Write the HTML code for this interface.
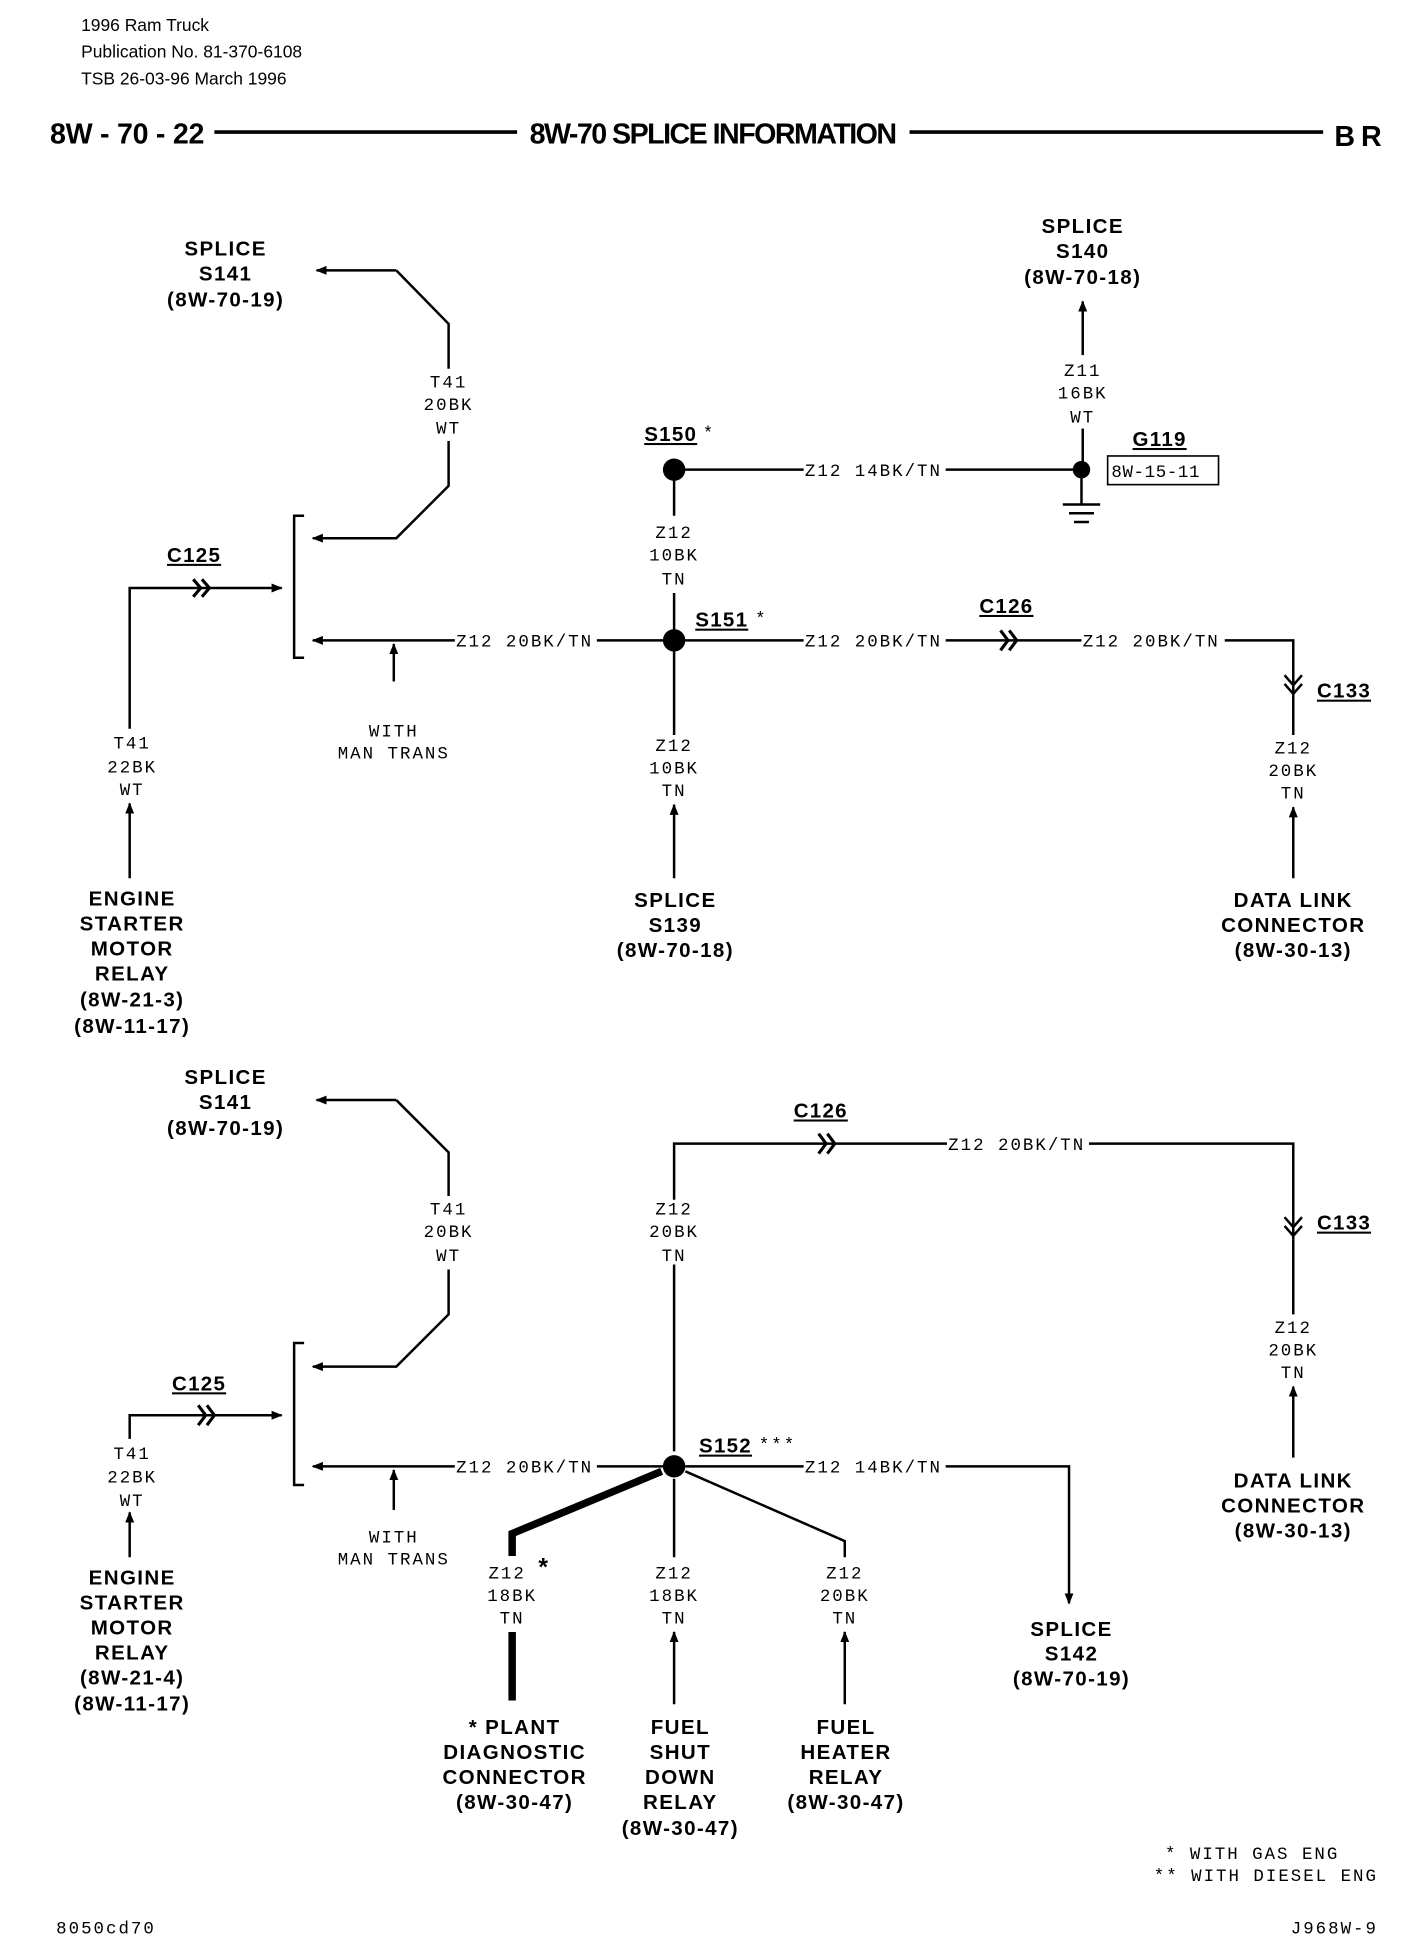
<!DOCTYPE html>
<html><head><meta charset="utf-8"><style>
html,body{margin:0;padding:0;background:#fff}
svg{display:block}
.h{font-family:"Liberation Sans",sans-serif;font-size:14px}
.t{font-family:"Liberation Sans",sans-serif;font-weight:bold;font-size:23px}
.b{font-family:"Liberation Sans",sans-serif;font-weight:900;font-size:16.5px;letter-spacing:1.1px;text-anchor:middle}
.bl{font-family:"Liberation Sans",sans-serif;font-weight:900;font-size:16.5px;letter-spacing:1px;text-decoration:underline}
.m{font-family:"Liberation Mono",monospace;font-size:14px;letter-spacing:1.6px;text-anchor:middle}
.ml{font-family:"Liberation Mono",monospace;font-size:14px;letter-spacing:1.6px}
line,polyline,path{stroke:#000;stroke-width:2;fill:none}
.th{stroke-width:6}
.cv{stroke-width:2.5}
</style></head><body>
<svg width="1408" height="1936" viewBox="0 0 1130 1554" xmlns="http://www.w3.org/2000/svg">
<defs>
<marker id="a" viewBox="0 0 10 10" refX="9" refY="5" markerWidth="9" markerHeight="9" orient="auto-start-reverse" markerUnits="userSpaceOnUse"><path d="M0,1 L10,5 L0,9 Z" style="fill:#000;stroke:none"/></marker>
</defs>
<text class="h" x="65" y="25">1996 Ram Truck</text>
<text class="h" x="65" y="46">Publication  No. 81-370-6108</text>
<text class="h" x="65" y="68">TSB 26-03-96   March  1996</text>
<text class="t" x="40" y="115" textLength="124">8W - 70 - 22</text>
<line x1="172" y1="106" x2="415" y2="106" style="stroke-width:3"/>
<text class="t" x="425" y="115" textLength="295">8W-70 SPLICE INFORMATION</text>
<line x1="730" y1="106" x2="1062" y2="106" style="stroke-width:3"/>
<text class="t" x="1071" y="117" textLength="38">BR</text>

<!-- TOP DIAGRAM -->
<text class="b" x="181" y="205">SPLICE</text><text class="b" x="181" y="225">S141</text><text class="b" x="181" y="246">(8W-70-19)</text>
<polyline points="318,217 254,217" marker-end="url(#a)"/>
<polyline points="318,217 360,260 360,296"/>
<text class="m" x="360" y="311">T41</text><text class="m" x="360" y="329">20BK</text><text class="m" x="360" y="348">WT</text>
<polyline points="360,354 360,390 318,432 251,432" marker-end="url(#a)"/>
<polyline points="244,414 236,414 236,528 244,528"/>
<text class="bl" x="134" y="451">C125</text>
<polyline points="104,585 104,472 226,472" marker-end="url(#a)"/>
<polyline class="cv" points="155,465 161,472 155,479"/><polyline class="cv" points="162,465 168,472 162,479"/>
<text class="m" x="106" y="601">T41</text><text class="m" x="106" y="620">22BK</text><text class="m" x="106" y="638">WT</text>
<line x1="104" y1="645" x2="104" y2="705" marker-start="url(#a)"/>
<text class="b" x="106" y="727">ENGINE</text><text class="b" x="106" y="747">STARTER</text><text class="b" x="106" y="767">MOTOR</text><text class="b" x="106" y="787">RELAY</text><text class="b" x="106" y="808">(8W-21-3)</text><text class="b" x="106" y="829">(8W-11-17)</text>
<line x1="365" y1="514" x2="251" y2="514" marker-end="url(#a)"/>
<line x1="316" y1="547" x2="316" y2="517" marker-end="url(#a)"/>
<text class="m" x="316" y="591">WITH</text><text class="m" x="316" y="609">MAN TRANS</text>
<text class="ml" x="366" y="519">Z12 20BK/TN</text>
<line x1="479" y1="514" x2="541" y2="514"/>
<circle cx="541" cy="514" r="9"/>
<circle cx="541" cy="377" r="9"/>
<text class="bl" x="517" y="354">S150</text><text class="ml" x="564" y="352">*</text>
<line x1="541" y1="377" x2="645" y2="377"/>
<text class="ml" x="646" y="382">Z12 14BK/TN</text>
<line x1="759" y1="377" x2="868" y2="377"/>
<circle cx="868" cy="377" r="7"/>
<text class="bl" x="909" y="358">G119</text>
<rect x="889" y="366" width="89" height="23" style="fill:none;stroke:#000;stroke-width:1.3"/>
<text class="ml" x="892" y="383" style="letter-spacing:0.5px">8W-15-11</text>
<line x1="868" y1="377" x2="868" y2="405"/>
<line x1="853" y1="405" x2="883" y2="405"/><line x1="858" y1="412" x2="878" y2="412"/><line x1="862" y1="419" x2="874" y2="419"/>
<text class="b" x="869" y="187">SPLICE</text><text class="b" x="869" y="207">S140</text><text class="b" x="869" y="228">(8W-70-18)</text>
<line x1="869" y1="285" x2="869" y2="242" marker-end="url(#a)"/>
<text class="m" x="869" y="302">Z11</text><text class="m" x="869" y="320">16BK</text><text class="m" x="869" y="339">WT</text>
<line x1="869" y1="344" x2="869" y2="377"/>
<line x1="541" y1="377" x2="541" y2="414"/>
<text class="m" x="541" y="432">Z12</text><text class="m" x="541" y="450">10BK</text><text class="m" x="541" y="469">TN</text>
<line x1="541" y1="476" x2="541" y2="590"/>
<text class="bl" x="558" y="503">S151</text><text class="ml" x="606" y="501">*</text>
<line x1="541" y1="514" x2="645" y2="514"/>
<text class="ml" x="646" y="519">Z12 20BK/TN</text>
<line x1="759" y1="514" x2="868" y2="514"/>
<polyline class="cv" points="803,506 809,514 803,522"/><polyline class="cv" points="810,506 816,514 810,522"/>
<text class="bl" x="786" y="492">C126</text>
<text class="ml" x="869" y="519">Z12 20BK/TN</text>
<polyline points="983,514 1038,514 1038,590"/>
<polyline points="1031,542 1038,550 1045,542"/><polyline points="1031,549 1038,557 1045,549"/>
<text class="bl" x="1057" y="560">C133</text>
<text class="m" x="1038" y="605">Z12</text><text class="m" x="1038" y="623">20BK</text><text class="m" x="1038" y="641">TN</text>
<line x1="1038" y1="648" x2="1038" y2="705" marker-start="url(#a)"/>
<text class="b" x="1038" y="728">DATA LINK</text><text class="b" x="1038" y="748">CONNECTOR</text><text class="b" x="1038" y="768">(8W-30-13)</text>
<text class="m" x="541" y="603">Z12</text><text class="m" x="541" y="621">10BK</text><text class="m" x="541" y="639">TN</text>
<line x1="541" y1="646" x2="541" y2="705" marker-start="url(#a)"/>
<text class="b" x="542" y="728">SPLICE</text><text class="b" x="542" y="748">S139</text><text class="b" x="542" y="768">(8W-70-18)</text>

<!-- BOTTOM DIAGRAM -->
<text class="b" x="181" y="870">SPLICE</text><text class="b" x="181" y="890">S141</text><text class="b" x="181" y="911">(8W-70-19)</text>
<polyline points="318,883 254,883" marker-end="url(#a)"/>
<polyline points="318,883 360,925 360,960"/>
<text class="m" x="360" y="975">T41</text><text class="m" x="360" y="993">20BK</text><text class="m" x="360" y="1012">WT</text>
<polyline points="360,1019 360,1055 318,1097 251,1097" marker-end="url(#a)"/>
<polyline points="244,1078 236,1078 236,1192 244,1192"/>
<text class="bl" x="138" y="1116">C125</text>
<polyline points="104,1155 104,1136 226,1136" marker-end="url(#a)"/>
<polyline class="cv" points="159,1128 165,1136 159,1144"/><polyline class="cv" points="166,1128 172,1136 166,1144"/>
<text class="m" x="106" y="1171">T41</text><text class="m" x="106" y="1190">22BK</text><text class="m" x="106" y="1209">WT</text>
<line x1="104" y1="1214" x2="104" y2="1250" marker-start="url(#a)"/>
<text class="b" x="106" y="1272">ENGINE</text><text class="b" x="106" y="1292">STARTER</text><text class="b" x="106" y="1312">MOTOR</text><text class="b" x="106" y="1332">RELAY</text><text class="b" x="106" y="1352">(8W-21-4)</text><text class="b" x="106" y="1373">(8W-11-17)</text>
<line x1="365" y1="1177" x2="251" y2="1177" marker-end="url(#a)"/>
<line x1="316" y1="1212" x2="316" y2="1180" marker-end="url(#a)"/>
<text class="m" x="316" y="1238">WITH</text><text class="m" x="316" y="1256">MAN TRANS</text>
<text class="ml" x="366" y="1182">Z12 20BK/TN</text>
<line x1="479" y1="1177" x2="541" y2="1177"/>
<circle cx="541" cy="1177" r="9"/>
<text class="bl" x="561" y="1166">S152</text><text class="ml" x="609" y="1164">***</text>
<polyline points="541,1165 541,1015"/>
<text class="m" x="541" y="975">Z12</text><text class="m" x="541" y="993">20BK</text><text class="m" x="541" y="1012">TN</text>
<polyline points="541,963 541,918 760,918"/>
<polyline class="cv" points="657,910 663,918 657,926"/><polyline class="cv" points="664,910 670,918 664,926"/>
<text class="bl" x="637" y="897">C126</text>
<text class="ml" x="761" y="923">Z12 20BK/TN</text>
<polyline points="874,918 1038,918 1038,995"/>
<polyline points="1031,977 1038,985 1045,977"/><polyline points="1031,984 1038,992 1045,984"/>
<text class="bl" x="1057" y="987">C133</text>
<line x1="1038" y1="995" x2="1038" y2="1055"/>
<text class="m" x="1038" y="1070">Z12</text><text class="m" x="1038" y="1088">20BK</text><text class="m" x="1038" y="1106">TN</text>
<line x1="1038" y1="1113" x2="1038" y2="1170" marker-start="url(#a)"/>
<text class="b" x="1038" y="1194">DATA LINK</text><text class="b" x="1038" y="1214">CONNECTOR</text><text class="b" x="1038" y="1234">(8W-30-13)</text>
<line x1="550" y1="1177" x2="645" y2="1177"/>
<text class="ml" x="646" y="1182">Z12 14BK/TN</text>
<polyline points="759,1177 858,1177 858,1287" marker-end="url(#a)"/>
<text class="b" x="860" y="1313">SPLICE</text><text class="b" x="860" y="1333">S142</text><text class="b" x="860" y="1353">(8W-70-19)</text>
<polyline class="th" points="531,1181 411,1231 411,1249"/>
<text class="m" x="407" y="1267">Z12</text><text class="ml" x="430" y="1265" style="font-size:20px;font-weight:bold">*</text>
<text class="m" x="411" y="1285">18BK</text><text class="m" x="411" y="1303">TN</text>
<line class="th" x1="411" y1="1310" x2="411" y2="1365"/>
<text class="b" x="413" y="1392">* PLANT</text><text class="b" x="413" y="1412">DIAGNOSTIC</text><text class="b" x="413" y="1432">CONNECTOR</text><text class="b" x="413" y="1452">(8W-30-47)</text>
<line x1="541" y1="1187" x2="541" y2="1250"/>
<text class="m" x="541" y="1267">Z12</text><text class="m" x="541" y="1285">18BK</text><text class="m" x="541" y="1303">TN</text>
<line x1="541" y1="1310" x2="541" y2="1368" marker-start="url(#a)"/>
<text class="b" x="546" y="1392">FUEL</text><text class="b" x="546" y="1412">SHUT</text><text class="b" x="546" y="1432">DOWN</text><text class="b" x="546" y="1452">RELAY</text><text class="b" x="546" y="1473">(8W-30-47)</text>
<polyline points="550,1181 678,1237 678,1250"/>
<text class="m" x="678" y="1267">Z12</text><text class="m" x="678" y="1285">20BK</text><text class="m" x="678" y="1303">TN</text>
<line x1="678" y1="1310" x2="678" y2="1368" marker-start="url(#a)"/>
<text class="b" x="679" y="1392">FUEL</text><text class="b" x="679" y="1412">HEATER</text><text class="b" x="679" y="1432">RELAY</text><text class="b" x="679" y="1452">(8W-30-47)</text>
<text class="ml" x="935" y="1492">* WITH GAS ENG</text>
<text class="ml" x="926" y="1510">** WITH DIESEL ENG</text>
<text class="ml" x="45" y="1552">8050cd70</text>
<text class="ml" x="1036" y="1552">J968W-9</text>
</svg>
</body></html>
